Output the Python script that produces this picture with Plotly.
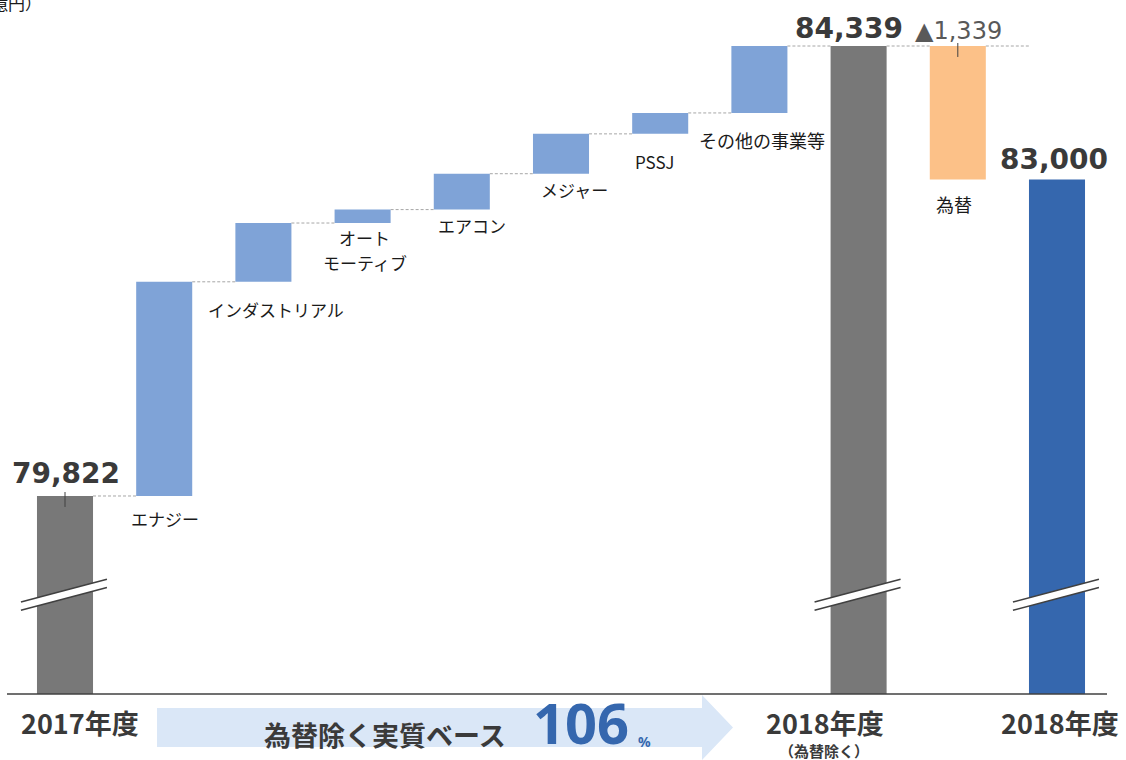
import plotly.graph_objects as go

# ---------------- data ----------------
categories = ["2017年度", "エナジー", "インダストリアル", "オート\nモーティブ", "エアコン",
              "メジャー", "PSSJ", "その他の事業等", "2018年度", "為替", "2018年度"]
start_total = 79822
step_values = [2150, 590, 135, 360, 400, 210, 672]
total_ex_fx = 84339
fx_effect = -1339
final_total = 83000
axis_floor = 77835          # floor of the broken value axis
growth_pct = 106
unit_label = "（億円）"
sub_label = "（為替除く）"
arrow_text = "為替除く実質ベース"

# ---------------- styles ----------------
W, H = 1126, 760
PX_PER_CAT = 99.2
CAT0_PX = 65
UPP = 10.038                 # value units per pixel
TOP_REF_PX = 46              # pixel row of total_ex_fx
C_GREY = "#787878"
C_STEP = "#7fa3d7"
C_FX = "#fcc188"
C_FINAL = "#3567ae"
C_TXT = "#3a3a3a"
JP = "Noto Sans CJK JP"
BW = 0.565

x_range = [-CAT0_PX / PX_PER_CAT, (W - CAT0_PX) / PX_PER_CAT]
y_range = [total_ex_fx - (H - TOP_REF_PX) * UPP, total_ex_fx + TOP_REF_PX * UPP]

# cumulative positions
bases = []
level = start_total
for v in step_values:
    bases.append(level)
    level += v

fig = go.Figure()
fig.add_bar(x=[0, 8], y=[start_total - axis_floor, total_ex_fx - axis_floor],
            base=[axis_floor, axis_floor], marker_color=C_GREY, width=BW,
            marker_line_width=0, hoverinfo="skip")
fig.add_bar(x=list(range(1, 8)), y=step_values, base=bases, marker_color=C_STEP,
            width=BW, marker_line_width=0, hoverinfo="skip")
fig.add_bar(x=[9], y=[-fx_effect], base=[final_total], marker_color=C_FX, width=BW,
            marker_line_width=0, hoverinfo="skip")
fig.add_bar(x=[10], y=[final_total - axis_floor], base=[axis_floor], marker_color=C_FINAL,
            width=BW, marker_line_width=0, hoverinfo="skip")

shapes = []
# dashed connectors
levels = [start_total] + [b + v for b, v in zip(bases, step_values)] + [total_ex_fx, total_ex_fx, final_total]
for i in range(10):
    shapes.append(dict(type="line", xref="x", yref="y", x0=i + BW / 2, x1=i + 1 - BW / 2,
                       y0=levels[i], y1=levels[i],
                       line=dict(color="#a6a6a6", width=1, dash="3px,2px")))
# baseline
shapes.append(dict(type="line", xref="x", yref="y", x0=-0.585, x1=10.504, y0=axis_floor, y1=axis_floor,
                   line=dict(color="#404040", width=1.5)))
# leader ticks
shapes.append(dict(type="line", xref="x", yref="y", x0=0, x1=0, y0=start_total + 40, y1=start_total - 110,
                   line=dict(color="#404040", width=1)))
shapes.append(dict(type="line", xref="x", yref="y", x0=9, x1=9, y0=total_ex_fx + 30, y1=total_ex_fx - 110,
                   line=dict(color="#404040", width=1)))
# axis-break marks
yl, yr, gap = 78758, 78986, 83
for c in [0, 8, 10]:
    xa, xb = c - 0.444, c + 0.423
    shapes.append(dict(type="path", xref="x", yref="y",
                       path=f"M {xa},{yl} L {xb},{yr} L {xb},{yr-gap} L {xa},{yl-gap} Z",
                       fillcolor="white", line=dict(width=0)))
    for yy in (0, gap):
        shapes.append(dict(type="line", xref="x", yref="y", x0=xa, x1=xb, y0=yl - yy, y1=yr - yy,
                           line=dict(color="#404040", width=1.5)))

# arrow (paper coords from pixels)
def px(xp): return xp / W
def py(yp): return 1 - yp / H
arrow = (f"M {px(157)},{py(708)} L {px(702)},{py(708)} L {px(702)},{py(695)} L {px(733)},{py(727.5)} "
         f"L {px(702)},{py(760)} L {px(702)},{py(747)} L {px(157)},{py(747)} Z")
shapes.append(dict(type="path", xref="paper", yref="paper", path=arrow, fillcolor="#dae7f7",
                   line=dict(width=0), layer="below"))

ann = []
def A(text, x, y, size, color=C_TXT, family=JP, xref="x", yref="y", xshift=0, yshift=0, **kw):
    ann.append(dict(text=text, x=x, y=y, xref=xref, yref=yref, showarrow=False, xshift=xshift,
                    yshift=yshift, font=dict(size=size, color=color, family=family),
                    xanchor=kw.get("xanchor", "center"), yanchor=kw.get("yanchor", "middle")))

VAL = "DejaVu Sans"
A(f"<b>{start_total:,}</b>", 0, start_total, 28, family=VAL, yshift=22, xshift=1)
A(f"<b>{total_ex_fx:,}</b>", 8, total_ex_fx, 28, family=VAL, yshift=18, xshift=-10)
A(f"▲{-fx_effect:,}", 9, total_ex_fx, 24, color="#595959", family=VAL, yshift=15, xshift=1)
A(f"<b>{final_total:,}</b>", 10, final_total, 28, family=VAL, yshift=20, xshift=-3)

# category labels: (dx, dy of first line)
cat_offsets = {1: (1, -23), 2: (13, -28), 3: (2, -14), 4: (10, -16), 5: (13, -16),
               6: (-6, -28), 7: (3, -27), 9: (-4, -25)}
for i, (dx, dy) in cat_offsets.items():
    bottom = bases[i - 1] if 1 <= i <= 7 else final_total
    size = 18 if i in (7, 9) else 17
    for k, line in enumerate(categories[i].split("\n")):
        A(line, i, bottom, size, color="#1a1a1a", xshift=dx, yshift=dy - 25 * k)

A(f"<b>{categories[0]}</b>", px(80), py(722), 27, xref="paper", yref="paper")
A(f"<b>{categories[8]}</b>", px(825), py(722), 27, xref="paper", yref="paper")
A(f"<b>{sub_label}</b>", px(824), py(750), 15, xref="paper", yref="paper")
A(f"<b>{categories[10]}</b>", px(1060), py(722), 27, xref="paper", yref="paper")

A(f"<b>{arrow_text}</b>", px(385), py(734), 27, xref="paper", yref="paper")
A(f"<b>{growth_pct}</b>", px(581), py(722), 56, color=C_FINAL, family="Noto Sans", xref="paper", yref="paper")
A("<b>%</b>", px(644), py(741), 14, color=C_FINAL, family="Noto Sans", xref="paper", yref="paper")

A(unit_label, px(44), py(3), 17, color="#1a1a1a", xref="paper", yref="paper", xanchor="right")

fig.update_layout(
    width=W, height=H, margin=dict(l=0, r=0, t=0, b=0, pad=0),
    plot_bgcolor="white", paper_bgcolor="white", showlegend=False, barmode="overlay",
    xaxis=dict(range=x_range, visible=False, fixedrange=True),
    yaxis=dict(range=y_range, visible=False, fixedrange=True),
    shapes=shapes, annotations=ann,
)

fig.write_html("out.html", config={"displayModeBar": False},
               post_script="document.body.style.margin='0';document.body.style.overflow='hidden';")
